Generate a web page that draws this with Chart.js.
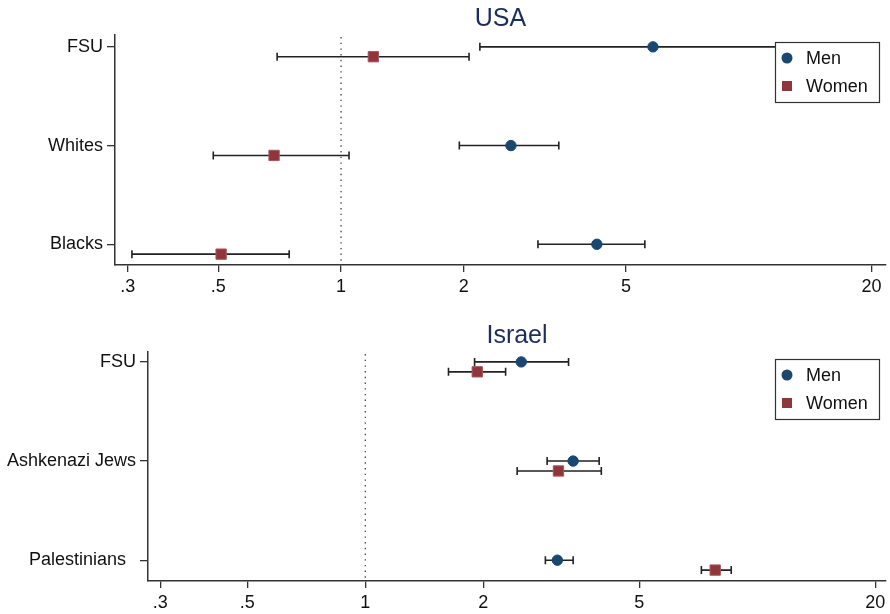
<!DOCTYPE html>
<html>
<head>
<meta charset="utf-8">
<title>USA / Israel</title>
<script src="https://cdn.jsdelivr.net/npm/chart.js@4.4.1/dist/chart.umd.min.js"></script>
<style>
  body { margin: 0; background: #fff; }
  canvas { display: block; }
</style>
</head>
<body>
<canvas id="usaChart" width="890" height="300"></canvas>
<canvas id="israelChart" width="890" height="314"></canvas>
<script>
'use strict';

// Tick labels on the log axis
const xTicks = [0.3, 0.5, 1, 2, 5, 20];
const seriesNames = ['Men', 'Women'];

// USA panel
const usaGroups = ['FSU', 'Whites', 'Blacks'];
const usaMen = [5.82, 2.61, 4.24];
const usaMenLow = [2.19, 1.95, 3.04];
const usaMenHigh = [15.5, 3.42, 5.56];
const usaWomen = [1.20, 0.685, 0.508];
const usaWomenLow = [0.697, 0.486, 0.307];
const usaWomenHigh = [2.06, 1.046, 0.746];

// Israel panel
const israelGroups = ['FSU', 'Ashkenazi Jews', 'Palestinians  '];
const israelMen = [2.50, 3.39, 3.09];
const israelMenLow = [1.90, 2.91, 2.88];
const israelMenHigh = [3.30, 3.95, 3.39];
const israelWomen = [1.93, 3.11, 7.81];
const israelWomenLow = [1.63, 2.44, 7.20];
const israelWomenHigh = [2.28, 4.00, 8.58];

const FONT = "'Liberation Sans', Arial, sans-serif";
const MEN_COLOR = '#1a476f';
const WOMEN_COLOR = '#90353b';
const INK = '#222';

Chart.defaults.font.family = FONT;
Chart.defaults.color = '#111';

// Reference line, error bars, title and legend box
const forestPlugin = {
  id: 'forest',
  beforeDatasetsDraw(chart) {
    const { ctx, chartArea, scales: { x, y } } = chart;
    const x1 = x.getPixelForValue(1);
    ctx.save();
    ctx.strokeStyle = '#444';
    ctx.lineWidth = 1.3;
    ctx.setLineDash([1.4, 4.3]);
    ctx.beginPath();
    ctx.moveTo(x1, chartArea.top + 2);
    ctx.lineTo(x1, chartArea.bottom - 2);
    ctx.stroke();
    ctx.setLineDash([]);

    ctx.strokeStyle = INK;
    ctx.lineWidth = 1.6;
    chart.data.datasets.forEach(ds => {
      ds.data.forEach((p, i) => {
        const py = y.getPixelForValue(p.y);
        const a = x.getPixelForValue(ds.low[i]);
        const b = x.getPixelForValue(ds.high[i]);
        ctx.beginPath();
        ctx.moveTo(a, py); ctx.lineTo(b, py);
        ctx.moveTo(a, py - 4); ctx.lineTo(a, py + 4);
        ctx.moveTo(b, py - 4); ctx.lineTo(b, py + 4);
        ctx.stroke();
      });
    });
    ctx.restore();
  },
  afterDraw(chart, args, opts) {
    const { ctx, chartArea } = chart;
    ctx.save();
    // panel title
    ctx.fillStyle = '#1c2d5c';
    ctx.font = '25px ' + FONT;
    ctx.textAlign = 'center';
    ctx.textBaseline = 'middle';
    ctx.fillText(opts.title, (chartArea.left + chartArea.right) / 2, chartArea.top - 16);

    // legend box
    const w = 104, h = 60;
    const lx = chartArea.right - 7 - w;
    const ly = chartArea.top + 7;
    ctx.fillStyle = '#fff';
    ctx.fillRect(lx, ly, w, h);
    ctx.strokeStyle = '#333';
    ctx.lineWidth = 1.2;
    ctx.strokeRect(lx + 0.5, ly + 0.5, w, h);

    ctx.font = '18px ' + FONT;
    ctx.textAlign = 'left';
    chart.data.datasets.forEach((ds, i) => {
      const cy = ly + 16 + i * 28;
      ctx.fillStyle = ds.backgroundColor;
      if (ds.pointStyle === 'rect') {
        ctx.fillRect(lx + 7, cy - 5, 10, 10);
      } else {
        ctx.beginPath();
        ctx.arc(lx + 12, cy, 5.5, 0, Math.PI * 2);
        ctx.fill();
      }
      ctx.fillStyle = '#111';
      ctx.fillText(ds.label, lx + 31, cy + 1);
    });
    ctx.restore();
  }
};

function makePoints(values, offset) {
  return values.map((v, i) => ({ x: v, y: i + offset }));
}

function buildPanel(canvasId, title, groups, men, menLow, menHigh, women, womenLow, womenHigh, layout) {
  const ctx = document.getElementById(canvasId).getContext('2d');
  return new Chart(ctx, {
    type: 'scatter',
    data: {
      datasets: [{
        label: seriesNames[0],
        data: makePoints(men, 0),
        low: menLow,
        high: menHigh,
        backgroundColor: MEN_COLOR,
        borderColor: MEN_COLOR,
        borderWidth: 1,
        pointStyle: 'circle',
        pointRadius: 5.2
      }, {
        label: seriesNames[1],
        data: makePoints(women, 0.1),
        low: womenLow,
        high: womenHigh,
        backgroundColor: WOMEN_COLOR,
        borderColor: '#a9565c',
        borderWidth: 1,
        pointStyle: 'rect',
        pointRadius: 7.3
      }]
    },
    options: {
      responsive: false,
      animation: false,
      layout: { autoPadding: false, padding: { top: layout.top, right: 4, left: 0, bottom: 0 } },
      plugins: {
        legend: { display: false },
        tooltip: { enabled: false },
        forest: { title: title }
      },
      scales: {
        x: {
          type: 'logarithmic',
          min: 0.279,
          max: layout.xMax,
          afterBuildTicks: scale => { scale.ticks = xTicks.map(v => ({ value: v })); },
          afterFit: scale => {
            scale.height = layout.bottom;
            scale.paddingLeft = 0;
            scale.paddingRight = 0;
          },
          ticks: {
            font: { size: 18 },
            color: '#111',
            padding: 4,
            maxRotation: 0,
            autoSkip: false,
            callback: v => (v < 1 ? String(v).replace(/^0/, '') : String(v))
          },
          grid: { drawOnChartArea: false, drawTicks: true, tickLength: 7, tickColor: '#333', lineWidth: 1.3 },
          border: { display: true, color: '#333', width: 1.5 }
        },
        y: {
          type: 'linear',
          reverse: true,
          min: -layout.yTop,
          max: 2.21,
          afterBuildTicks: scale => { scale.ticks = groups.map((g, i) => ({ value: i })); },
          afterFit: scale => {
            scale.width = layout.left;
            scale.paddingTop = 0;
            scale.paddingBottom = 0;
          },
          ticks: {
            font: { size: 18 },
            color: '#111',
            padding: 4,
            autoSkip: false,
            callback: v => groups[v]
          },
          grid: { drawOnChartArea: false, drawTicks: true, tickLength: 8, tickColor: '#333', lineWidth: 1.3 },
          border: { display: true, color: '#333', width: 1.5 }
        }
      }
    },
    plugins: [forestPlugin]
  });
}

buildPanel('usaChart', 'USA', usaGroups, usaMen, usaMenLow, usaMenHigh,
  usaWomen, usaWomenLow, usaWomenHigh, { top: 35, bottom: 35, left: 115, yTop: 0.12, xMax: 21.7 });

buildPanel('israelChart', 'Israel', israelGroups, israelMen, israelMenLow, israelMenHigh,
  israelWomen, israelWomenLow, israelWomenHigh, { top: 52, bottom: 33, left: 148, yTop: 0.10, xMax: 21.3 });
</script>
</body>
</html>
